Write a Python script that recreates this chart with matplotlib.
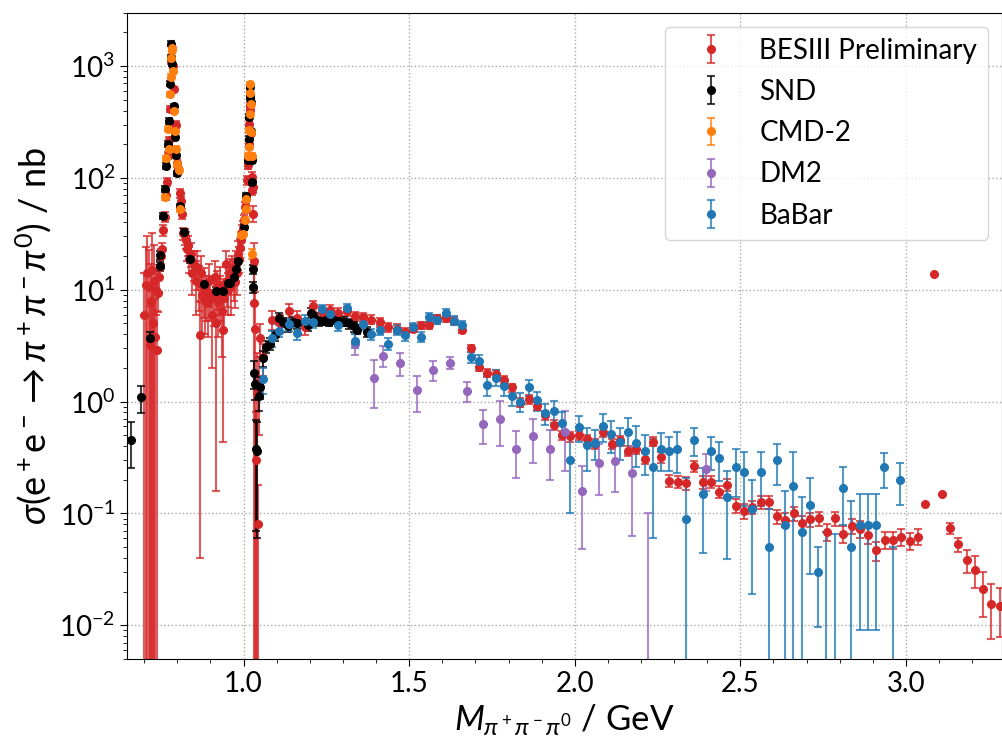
import numpy as np
import matplotlib
matplotlib.use("Agg")
import matplotlib.pyplot as plt
from matplotlib.ticker import MultipleLocator, LogLocator, NullFormatter
from matplotlib.colors import to_rgba

plt.rcParams['font.family'] = ['Lato', 'DejaVu Sans']
plt.rcParams['mathtext.fontset'] = 'custom'
plt.rcParams['mathtext.rm'] = 'Lato'
plt.rcParams['mathtext.it'] = 'Lato:italic'
plt.rcParams['mathtext.bf'] = 'Lato:bold'
plt.rcParams['mathtext.fallback'] = 'cm'

# ---------------- data ----------------
# BESIII preliminary
bes_x = [0.700, 0.704, 0.708, 0.713, 0.716, 0.720, 0.724, 0.728, 0.731, 0.734,
         0.737, 0.739, 0.741, 0.744, 0.747, 0.750, 0.754, 0.758, 0.762, 0.766,
         0.770, 0.773, 0.775, 0.777, 0.780, 0.783, 0.786, 0.790, 0.795, 0.800,
         0.803, 0.807, 0.810, 0.813, 0.818, 0.822, 0.825, 0.829, 0.832, 0.836,
         0.840, 0.845, 0.850, 0.855, 0.860, 0.865, 0.868, 0.872, 0.876, 0.880,
         0.884, 0.888, 0.892, 0.896, 0.900, 0.905, 0.910, 0.914, 0.918, 0.920,
         0.924, 0.928, 0.930, 0.934, 0.938, 0.942, 0.946, 0.950, 0.954, 0.958,
         0.962, 0.966, 0.970, 0.973, 0.976, 0.980, 0.983, 0.986, 0.990, 0.993,
         0.996, 0.999, 1.002, 1.005, 1.008, 1.011, 1.013, 1.015, 1.016, 1.018,
         1.019, 1.020, 1.022, 1.024, 1.026, 1.028, 1.030, 1.031, 1.033, 1.036,
         1.038, 1.041, 1.043, 1.047, 1.050, 1.060, 1.085, 1.110, 1.136, 1.161,
         1.186, 1.211, 1.236, 1.261, 1.286, 1.311, 1.336, 1.361, 1.386, 1.412,
         1.437, 1.462, 1.487, 1.512, 1.535, 1.560, 1.585, 1.610, 1.636, 1.660,
         1.686, 1.711, 1.736, 1.761, 1.786, 1.811, 1.836, 1.861, 1.886, 1.911,
         1.936, 1.962, 1.987, 2.012, 2.037, 2.062, 2.086, 2.111, 2.136, 2.161,
         2.186, 2.211, 2.236, 2.261, 2.286, 2.311, 2.336, 2.361, 2.386, 2.411,
         2.436, 2.461, 2.486, 2.511, 2.536, 2.561, 2.586, 2.611, 2.636, 2.661,
         2.686, 2.711, 2.736, 2.761, 2.786, 2.811, 2.836, 2.861, 2.886, 2.911,
         2.936, 2.961, 2.986, 3.011, 3.036, 3.058, 3.084, 3.108, 3.133, 3.158,
         3.183, 3.208, 3.233, 3.258, 3.283]
bes_y = [6.0, 11.0, 14.0, 10.6, 3.2, 8.0, 15.0, 5.0, 12.0, 3.8,
         10.0, 2.9, 9.3, 13.0, 16.0, 20.0, 23.0, 34.0, 45.0, 70.0,
         92.0, 160.0, 217.0, 417.0, 1100.0, 1450.0, 1000.0, 617.0, 300.0, 136.0,
         121.0, 73.0, 62.0, 48.0, 32.0, 30.0, 28.0, 23.0, 25.0, 19.0,
         21.0, 14.0, 17.0, 12.0, 16.0, 11.4, 3.9, 14.0, 9.0, 10.6,
         8.0, 9.3, 7.8, 12.0, 9.3, 6.0, 8.7, 13.0, 5.0, 10.6,
         7.8, 11.0, 9.3, 6.5, 4.4, 8.4, 17.0, 12.0, 10.0, 14.0,
         11.0, 15.0, 13.0, 11.8, 17.0, 14.0, 21.0, 19.0, 23.4, 28.0,
         33.0, 36.0, 42.0, 55.0, 65.0, 95.0, 130.0, 200.0, 306.0, 402.0,
         550.0, 450.0, 250.0, 78.0, 102.0, 83.0, 48.0, 18.0, 7.6, 4.5,
         0.3, 1.2, 0.08, 1.5, 3.7, 2.5, 5.4, 5.0, 6.5, 5.6,
         4.6, 7.15, 6.3, 6.6, 6.2, 6.45, 5.8, 5.7, 5.4, 5.1,
         4.6, 4.5, 4.2, 4.5, 4.8, 4.8, 5.6, 5.6, 5.3, 4.4,
         3.0, 2.05, 1.8, 1.77, 1.56, 1.34, 0.98, 1.05, 0.92, 0.76,
         0.62, 0.50, 0.49, 0.50, 0.46, 0.42, 0.53, 0.42, 0.45, 0.365,
         0.38, 0.31, 0.44, 0.32, 0.197, 0.193, 0.187, 0.267, 0.19, 0.193,
         0.157, 0.18, 0.117, 0.106, 0.114, 0.126, 0.126, 0.094, 0.088, 0.100,
         0.082, 0.089, 0.091, 0.069, 0.091, 0.066, 0.078, 0.073, 0.0645, 0.047,
         0.058, 0.058, 0.062, 0.057, 0.062, 0.121, 13.8, 0.149, 0.074, 0.053,
         0.0386, 0.0314, 0.021, 0.0156, 0.0148]
bes_e = [8.0, 13.0, 16.0, 12.0, 4.0, 9.0, 17.0, 6.0, 13.0, 4.5,
         4.0, 3.5, 3.0, 3.5, 3.0, 3.0, 3.0, 4.0, 5.0, 6.0,
         8.0, 12.0, 15.0, 25.0, 50.0, 60.0, 50.0, 35.0, 20.0, 10.0,
         10.0, 7.0, 6.0, 5.0, 4.0, 5.0, 5.0, 5.0, 5.0, 5.0,
         5.0, 5.0, 5.0, 6.0, 6.0, 5.0, 3.86, 6.0, 5.0, 5.0,
         4.0, 4.0, 4.0, 5.0, 4.0, 4.0, 4.0, 5.0, 4.84, 4.0,
         4.0, 5.0, 4.0, 4.0, 3.96, 4.0, 5.0, 5.0, 4.0, 5.0,
         5.0, 5.0, 5.0, 5.0, 5.0, 5.0, 6.0, 5.0, 5.0, 5.0,
         5.0, 5.0, 5.0, 6.0, 6.0, 8.0, 10.0, 15.0, 20.0, 25.0,
         30.0, 25.0, 15.0, 8.0, 10.0, 10.0, 8.0, 8.0, 9.0, 5.0,
         0.5, 1.5, 0.1, 1.0, 1.2, 0.8, 1.0, 0.9, 0.9, 0.8,
         0.7, 0.8, 0.7, 0.7, 0.6, 0.6, 0.5, 0.5, 0.5, 0.45,
         0.4, 0.4, 0.35, 0.35, 0.35, 0.35, 0.4, 0.4, 0.35, 0.3,
         0.22, 0.16, 0.14, 0.14, 0.13, 0.11, 0.09, 0.09, 0.08, 0.07,
         0.06, 0.05, 0.05, 0.05, 0.045, 0.04, 0.05, 0.04, 0.045, 0.04,
         0.04, 0.035, 0.04, 0.035, 0.025, 0.025, 0.025, 0.03, 0.025, 0.025,
         0.02, 0.022, 0.017, 0.016, 0.016, 0.017, 0.017, 0.014, 0.013, 0.014,
         0.013, 0.013, 0.013, 0.012, 0.013, 0.011, 0.012, 0.012, 0.011, 0.009,
         0.01, 0.01, 0.011, 0.01, 0.01, 0.0, 0.0, 0.0, 0.008, 0.008,
         0.009, 0.01, 0.009, 0.008, 0.007]

# SND
snd_x = [0.659, 0.689, 0.719, 0.747, 0.749, 0.757, 0.762, 0.767, 0.771, 0.774,
         0.777, 0.780, 0.782, 0.785, 0.789, 0.792, 0.796, 0.799, 0.809, 0.819,
         0.839, 0.880, 0.918, 0.938, 0.953, 0.960, 0.970, 0.978, 0.983, 1.001,
         1.008, 1.012, 1.015, 1.016, 1.018, 1.0195, 1.021, 1.0225, 1.024, 1.025,
         1.028, 1.030, 1.033, 1.035, 1.038, 1.040, 1.048, 1.050, 1.058, 1.068,
         1.081, 1.096, 1.108, 1.118, 1.133, 1.148, 1.161, 1.194, 1.204, 1.214,
         1.229, 1.244, 1.259, 1.274, 1.289, 1.304, 1.319, 1.334, 1.344, 1.374]
snd_y = [0.455, 1.09, 3.7, 16.3, 20.4, 46.0, 80.0, 128.0, 200.0, 323.0,
         695.0, 1200.0, 1585.0, 1050.0, 437.0, 232.0, 160.0, 110.0, 56.0, 33.0,
         18.7, 11.2, 9.8, 9.8, 11.4, 11.5, 13.1, 15.2, 18.0, 36.5,
         69.0, 144.0, 224.0, 351.0, 525.0, 647.0, 480.0, 260.0, 144.0, 92.0,
         15.2, 10.6, 1.79, 1.43, 0.38, 0.36, 1.12, 1.36, 2.44, 3.1,
         3.3, 3.9, 5.6, 5.1, 4.7, 5.2, 5.0, 4.8, 6.2, 5.7,
         5.25, 5.3, 5.2, 5.4, 5.3, 5.2, 5.0, 4.7, 4.4, 4.2]
snd_e = [0.2, 0.3, 0.5, 1.5, 2.0, 3.0, 5.0, 8.0, 12.0, 18.0,
         35.0, 60.0, 80.0, 55.0, 22.0, 12.0, 9.0, 6.0, 3.0, 2.0,
         1.2, 0.8, 0.7, 0.7, 0.8, 0.8, 0.8, 1.0, 1.1, 2.0,
         4.0, 8.0, 12.0, 18.0, 26.0, 32.0, 24.0, 14.0, 8.0, 6.0,
         1.5, 1.2, 0.5, 0.4, 0.31, 0.3, 0.3, 0.3, 0.4, 0.4,
         0.4, 0.4, 0.6, 0.5, 0.5, 0.5, 0.5, 0.5, 0.6, 0.5,
         0.5, 0.5, 0.5, 0.5, 0.5, 0.5, 0.5, 0.5, 0.4, 0.4]

# CMD-2
cmd_x = [0.762, 0.767, 0.772, 0.775, 0.778, 0.780, 0.782, 0.784, 0.785, 0.787,
         0.789, 0.792, 0.795, 0.799, 0.805, 0.809,
         0.993, 0.998, 1.004, 1.006, 1.008, 1.012, 1.015, 1.017, 1.018, 1.019,
         1.020, 1.021, 1.0225, 1.024, 1.026]
cmd_y = [67.0, 150.0, 276.0, 182.0, 560.0, 800.0, 1175.0, 1445.0, 1380.0, 900.0,
         398.0, 260.0, 182.0, 132.0, 118.0, 53.0,
         31.0, 31.4, 42.0, 53.0, 65.0, 158.0, 189.0, 266.0, 376.0, 570.0,
         690.0, 460.0, 257.0, 158.0, 21.0]
cmd_e = [4.0, 8.0, 14.0, 9.0, 28.0, 40.0, 60.0, 70.0, 70.0, 45.0,
         20.0, 13.0, 9.0, 7.0, 6.0, 3.0,
         2.0, 2.0, 2.5, 3.0, 3.5, 8.0, 9.0, 13.0, 18.0, 28.0,
         34.0, 22.0, 13.0, 8.0, 2.0]

# DM2
dm2_x = [1.337, 1.395, 1.422, 1.473, 1.524, 1.573, 1.623, 1.674, 1.724, 1.773,
         1.823, 1.874, 1.924, 1.972, 2.022, 2.072, 2.122, 2.172, 2.222, 2.397]
dm2_y = [3.3, 1.62, 2.57, 2.2, 1.26, 1.92, 2.23, 1.25, 0.63, 0.705,
         0.376, 0.49, 0.38, 0.53, 0.158, 0.28, 0.297, 0.228, 0.003, 0.249]
dm2_e = [0.7, 0.75, 0.55, 0.5, 0.45, 0.4, 0.28, 0.25, 0.21, 0.3,
         0.17, 0.21, 0.18, 0.29, 0.11, 0.135, 0.14, 0.165, 0.097, 0.09]

# BaBar
bab_x = [1.060, 1.085, 1.108, 1.136, 1.162, 1.186, 1.211, 1.237, 1.261, 1.286,
         1.311, 1.337, 1.362, 1.386, 1.412, 1.437, 1.462, 1.487, 1.512, 1.535,
         1.560, 1.585, 1.610, 1.636, 1.660, 1.686, 1.711, 1.736, 1.761, 1.786,
         1.811, 1.836, 1.861, 1.886, 1.911, 1.936, 1.962, 1.987, 2.012, 2.037,
         2.062, 2.085, 2.110, 2.136, 2.161, 2.186, 2.211, 2.235, 2.260, 2.285,
         2.310, 2.335, 2.360, 2.386, 2.410, 2.436, 2.461, 2.486, 2.511, 2.536,
         2.561, 2.586, 2.611, 2.635, 2.660, 2.685, 2.710, 2.735, 2.760, 2.785,
         2.810, 2.835, 2.860, 2.885, 2.910, 2.934, 2.960, 2.983]
bab_y = [1.58, 3.7, 4.3, 4.9, 4.1, 5.3, 5.1, 6.7, 6.1, 4.8,
         6.8, 3.5, 4.9, 4.0, 4.4, 3.3, 4.4, 3.9, 4.6, 3.8,
         5.7, 5.4, 6.2, 5.3, 4.8, 2.5, 2.3, 1.41, 1.64, 1.38,
         1.13, 1.0, 1.34, 1.03, 0.79, 0.83, 0.64, 0.30, 0.59, 0.41,
         0.43, 0.61, 0.51, 0.44, 0.53, 0.43, 0.36, 0.26, 0.38, 0.36,
         0.38, 0.089, 0.455, 0.149, 0.365, 0.316, 0.139, 0.26, 0.237, 0.109,
         0.237, 0.05, 0.30, 0.079, 0.177, 0.069, 0.119, 0.0297, 0.003, 0.003,
         0.169, 0.05, 0.079, 0.079, 0.079, 0.26, 0.003, 0.2]
bab_e = [0.4, 0.6, 0.55, 0.6, 0.55, 0.6, 0.55, 0.6, 0.6, 0.5,
         0.6, 0.5, 0.5, 0.45, 0.45, 0.4, 0.45, 0.4, 0.45, 0.4,
         0.5, 0.5, 0.55, 0.5, 0.45, 0.3, 0.3, 0.28, 0.27, 0.25,
         0.22, 0.2, 0.22, 0.2, 0.17, 0.18, 0.16, 0.2, 0.15, 0.17,
         0.13, 0.17, 0.16, 0.14, 0.19, 0.17, 0.14, 0.2, 0.14, 0.12,
         0.15, 0.12, 0.13, 0.105, 0.12, 0.12, 0.1, 0.12, 0.12, 0.09,
         0.12, 0.06, 0.12, 0.08, 0.18, 0.07, 0.09, 0.02, 0.065, 0.062,
         0.09, 0.078, 0.07, 0.07, 0.07, 0.09, 0.047, 0.08]

series = [
    ("BESIII Preliminary", bes_x, bes_y, bes_e, "#d62728"),
    ("SND", snd_x, snd_y, snd_e, "black"),
    ("CMD-2", cmd_x, cmd_y, cmd_e, "#ff7f0e"),
    ("DM2", dm2_x, dm2_y, dm2_e, "#9467bd"),
    ("BaBar", bab_x, bab_y, bab_e, "#1f77b4"),
]

# ---------------- plot ----------------
fig = plt.figure(figsize=(10.03, 7.43), dpi=100)
ax = fig.add_axes([0.1266, 0.113, 0.8724, 0.870])

for label, x, y, e, c in series:
    ax.errorbar(x, y, yerr=e, fmt='o', color=c, ecolor=to_rgba(c, 0.75),
                ms=5.5, capsize=3, elinewidth=1.5, capthick=1.5, label=label)

ax.set_yscale('log')
ax.set_xlim(0.648, 3.29)
ax.set_ylim(5e-3, 3e3)
ax.xaxis.set_major_locator(MultipleLocator(0.5))
ax.xaxis.set_minor_locator(MultipleLocator(0.1))
ax.yaxis.set_major_locator(LogLocator(base=10, numticks=20))
ax.yaxis.set_minor_locator(LogLocator(base=10, subs=np.arange(2, 10), numticks=100))
ax.yaxis.set_minor_formatter(NullFormatter())
ax.tick_params(axis='both', which='major', labelsize=20, length=5)
ax.tick_params(axis='both', which='minor', length=3)
ax.grid(True, which='major', linestyle=':', color='#aaaaaa', linewidth=1)

ax.set_xlabel(r'$M_{\pi^+\pi^-\pi^0}$ / GeV', fontsize=25)
ax.set_ylabel(r'$\sigma(\mathrm{e}^+\mathrm{e}^- \rightarrow \pi^+\pi^-\pi^0)$ / nb', fontsize=26)

ax.legend(loc='upper right', fontsize=20, handlelength=2.5, handletextpad=0.5,
          borderaxespad=0.5, framealpha=0.8, labelspacing=0.55)

plt.savefig("out.png", dpi=100)
